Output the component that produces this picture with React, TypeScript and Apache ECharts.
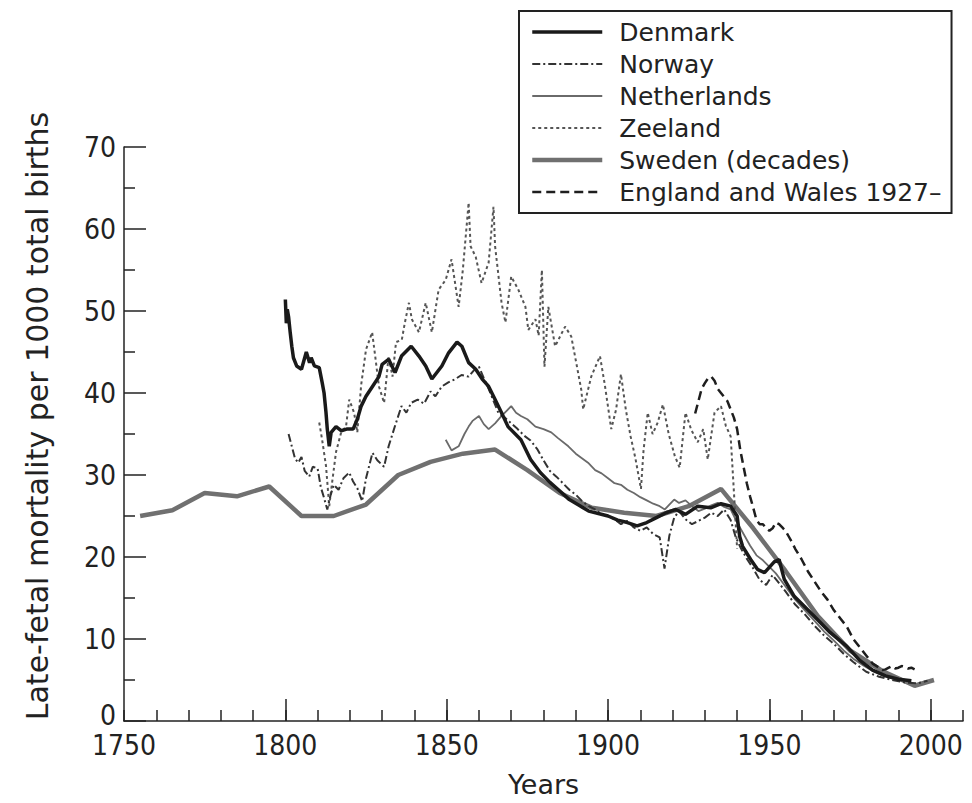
import React, { useEffect, useRef } from 'react';
import * as echarts from 'echarts';

const seriesNames = ['Denmark', 'Norway', 'Netherlands', 'Zeeland', 'Sweden (decades)', 'England and Wales 1927–'];
const xLabelYears = [1750, 1800, 1850, 1900, 1950, 2000];
const xMajorTickYears = [1800, 1850, 1900, 1950, 2000];

const denmark: [number, number][] = [
  [1800, 51.4], [1800.3, 48.5], [1800.6, 50.2], [1801, 49.3], [1801.5, 47.4], [1802, 45.7], [1802.5, 44.3],
  [1803.5, 43.3], [1805, 42.9], [1806.5, 45], [1807.5, 43.7], [1808, 44.3], [1809, 43.3], [1810.5, 43.1],
  [1811.4, 41.3], [1812, 40], [1812.6, 37.6], [1813, 35.6], [1813.6, 33.5], [1814.2, 35.2], [1815.7, 35.9],
  [1817.3, 35.4], [1819, 35.6], [1821, 35.6], [1822.3, 36.8], [1823.5, 38.4], [1825, 39.6], [1827, 40.8],
  [1829, 42], [1830, 43.5], [1832, 44.1], [1834, 42.5], [1836, 44.5], [1839, 45.7], [1841.4, 44.5],
  [1843.5, 43.3], [1845.4, 41.7], [1848.5, 43.3], [1850.6, 44.9], [1853.2, 46.2], [1854.7, 45.7],
  [1856.8, 43.7], [1859, 42.9], [1861, 41.7], [1863, 40.8], [1865, 39.2], [1867, 37.6], [1869, 35.9],
  [1873, 34.3], [1876, 31.9], [1879, 30.3], [1882, 29.1], [1885.5, 27.9], [1888, 27], [1891, 26.3],
  [1894, 25.6], [1897, 25.3], [1900, 25], [1903, 24.5], [1906, 24.2], [1909, 23.8], [1912, 24.2],
  [1915, 24.8], [1918, 25.4], [1921, 25.8], [1924, 25.2], [1927.8, 26.2], [1931.8, 26], [1935, 26.5],
  [1938, 26.2], [1940, 25], [1940.8, 22.5], [1941.7, 21.3], [1944.2, 19.7], [1946.3, 18.5], [1948.5, 18.1],
  [1951.5, 19.4], [1953, 19.7], [1954.6, 17.3], [1957.7, 15.2], [1960.8, 14], [1964.8, 12.4], [1968.8, 10.8],
  [1974, 9.1], [1978, 7.4], [1982, 6.2], [1986, 5.5], [1990, 5.1], [1994, 4.9],
];

const norway: [number, number][] = [
  [1801, 35], [1802, 33.5], [1803, 32], [1804, 31.5], [1805, 32.2], [1806, 30.5], [1807.4, 29.8],
  [1808.5, 31], [1810, 30.8], [1811, 28.5], [1812, 27.2], [1813, 25.8], [1814, 27.5], [1815, 28.8],
  [1816.5, 28.2], [1818, 29.6], [1819.8, 30.3], [1821, 29.2], [1822.3, 28.4], [1823.8, 26.8], [1825, 29.6],
  [1827, 32.7], [1828.5, 31.8], [1830.6, 31], [1832, 33.5], [1834, 36], [1836, 38.4], [1837.5, 37.6],
  [1839, 38.8], [1841, 39.2], [1843, 38.7], [1845, 40.2], [1846.5, 39.6], [1848.5, 40.8], [1850.5, 41.3],
  [1852.7, 41.7], [1854.6, 42.2], [1856.8, 42], [1858.5, 42.8], [1860, 43.2], [1861.5, 41.8], [1863, 40.5],
  [1866, 37.6], [1868, 37], [1870, 36.3], [1872, 35.6], [1874, 34.8], [1876, 34.2], [1878, 33.2],
  [1880, 31.8], [1882, 30.5], [1884, 29.8], [1886, 29], [1888, 28.2], [1890, 27.6], [1892, 26.8],
  [1894, 26.2], [1896, 25.8], [1898, 25.2], [1900, 25], [1902, 24.6], [1904, 24], [1906, 24.4],
  [1908, 23.6], [1910, 23.2], [1912, 23.6], [1914, 22.8], [1916, 22.4], [1917.5, 18.6], [1919, 22.6],
  [1920.5, 24.8], [1922, 25.6], [1924, 24.6], [1926, 24], [1928, 24.4], [1930, 24.8], [1932, 25.4],
  [1934, 25], [1936, 25.8], [1938, 24.5], [1939.5, 22.5], [1941, 21.2], [1943, 19.8], [1945, 18.6],
  [1947, 17.2], [1949, 16.6], [1951, 17.8], [1953, 16.8], [1955, 15.8], [1958, 14.2], [1961, 13],
  [1964, 11.6], [1967, 10.4], [1970, 9.4], [1973, 8.2], [1976, 7.2], [1980, 6], [1984, 5.4], [1988, 5],
  [1992, 4.7], [1996, 4.6], [1999, 4.9],
];

const netherlands: [number, number][] = [
  [1849.7, 34.3], [1851.5, 33], [1853.7, 33.5], [1855.5, 35], [1856.8, 35.9], [1858, 36.6], [1860, 37.2],
  [1861.5, 36.2], [1863, 35.6], [1865, 36.3], [1867, 37.2], [1868.5, 37.8], [1870, 38.4], [1871.5, 37.6],
  [1873, 37.2], [1875, 36.8], [1877.5, 35.9], [1880, 35.6], [1882.4, 35.2], [1884.5, 34.5], [1887.7, 33.5],
  [1890, 32.6], [1893.8, 31.5], [1896, 30.6], [1898, 30.2], [1900, 29.6], [1902, 29], [1904, 28.8],
  [1906, 28.2], [1908, 27.8], [1910, 27.3], [1912, 26.9], [1914, 26.5], [1916, 26.2], [1917.6, 25.8],
  [1919, 26.4], [1920.5, 27], [1922, 26.6], [1924, 26.9], [1926, 26.2], [1928, 25.6], [1930, 25.9],
  [1932, 26.3], [1934, 26.6], [1936, 26.1], [1938, 25.8], [1940, 24.2], [1942, 22.8], [1944, 21.4],
  [1946, 20.2], [1948, 19.6], [1950, 18.8], [1952, 18], [1955, 16.4], [1958, 14.8], [1961, 13.5],
  [1964, 12.2], [1967, 10.9], [1970, 9.8], [1973, 8.6], [1976, 7.6], [1979, 6.8], [1982, 6.1],
  [1985, 5.6], [1988, 5.2],
];

const zeeland: [number, number][] = [
  [1810.5, 36.4], [1811.4, 34.3], [1812.6, 31.1], [1813.6, 26.2], [1814.5, 29.1], [1815.7, 32.8],
  [1817.3, 35.2], [1818.8, 35.9], [1819.8, 39.2], [1821.3, 37.6], [1822.3, 35.2], [1823.5, 41],
  [1825, 45.3], [1826.9, 47.4], [1828, 44], [1829, 40.8], [1830.6, 38.8], [1832, 44.5], [1833.2, 42],
  [1834.3, 46.2], [1836.1, 46.5], [1837, 48.5], [1838.3, 51], [1839.2, 49], [1841.4, 47.4], [1843.5, 51],
  [1845.4, 47.4], [1847.5, 52.6], [1849.7, 53.8], [1851.5, 56.3], [1853.7, 50.5], [1855, 55],
  [1856.8, 63.2], [1857.4, 57.9], [1859, 56.6], [1860.8, 53.4], [1863, 55.9], [1864.5, 62.7], [1865, 57.9],
  [1867, 51], [1868.2, 48.6], [1870, 54.2], [1872.2, 52.6], [1874.4, 50.5], [1875.3, 47.7], [1877.5, 49],
  [1878.5, 47], [1879.5, 55], [1880.3, 43.2], [1881.5, 50.5], [1883.6, 45.7], [1886.7, 48.1],
  [1888.6, 46.9], [1890, 44], [1891.7, 40.4], [1892.3, 38], [1894.8, 42], [1897.5, 44.5], [1899, 41],
  [1901, 35.6], [1902.5, 38], [1904, 42.3], [1905.5, 38], [1907, 34.7], [1908.5, 32], [1910.2, 28.3],
  [1911, 33], [1912.3, 37.6], [1913.8, 35], [1915.4, 36.4], [1917, 38.6], [1918.8, 35], [1920.7, 32.3],
  [1922.2, 30.9], [1924, 37.6], [1925.8, 35.5], [1927.8, 34], [1929.5, 35.6], [1930.9, 31.9], [1933, 37.6],
  [1935, 38.4], [1936.5, 36], [1938, 34.7], [1939, 28], [1940, 21],
];

const sweden: [number, number][] = [
  [1755, 25], [1765, 25.7], [1775, 27.8], [1785, 27.4], [1795, 28.6], [1805, 25], [1815, 25], [1825, 26.4],
  [1835, 30], [1845, 31.6], [1855, 32.6], [1865, 33.1], [1875, 30.6], [1885, 27.8], [1895, 26], [1905, 25.4],
  [1915, 25], [1925, 26.2], [1935, 28.3], [1945, 23.5], [1955, 18.3], [1965, 12.8], [1975, 8.6], [1985, 6.1],
  [1995, 4.3], [2001, 5],
];

const englandWales: [number, number][] = [
  [1927, 37.5], [1928, 39], [1929, 40.5], [1930, 41.2], [1931, 41.8], [1932, 42], [1933, 41.5], [1934, 40.5],
  [1935, 40], [1936, 39.5], [1937, 39], [1938, 38], [1939, 37], [1940, 35.6], [1941, 33], [1942, 31],
  [1943, 29], [1944, 27.4], [1945, 26], [1946, 24.5], [1947, 24], [1948, 24], [1949, 23.5], [1950, 23.2],
  [1951, 23.5], [1952, 24.2], [1953, 24], [1954, 23.6], [1955, 23.2], [1956, 22.5], [1957, 21.8], [1958, 21],
  [1960, 19.7], [1962, 18.2], [1964, 17], [1966, 15.8], [1968, 14.8], [1970, 13.5], [1972, 12.5], [1974, 11.5],
  [1976, 10], [1978, 9], [1980, 8], [1982, 7], [1984, 6.5], [1985, 6.2], [1986, 6.3], [1987, 6.5], [1988, 6.7],
  [1989, 6.4], [1990, 6.5], [1991, 6.7], [1992, 6.6], [1993, 6.4], [1994, 6.5], [1995, 6.3],
];

const FONT = "'DejaVu Sans', sans-serif";
const TICK_FONT = "'DejaVu Sans Condensed', 'Liberation Sans Narrow', sans-serif";
const INK = '#222';

const styles = [
  { color: '#1a1a1a', width: 3.5, type: 'solid' as any },
  { color: '#333333', width: 2, type: [8, 3, 2, 3] as any },
  { color: '#6a6a6a', width: 1.8, type: 'solid' as any },
  { color: '#555555', width: 2, type: [3, 3] as any },
  { color: '#707070', width: 4.5, type: 'solid' as any },
  { color: '#1e1e1e', width: 2.5, type: [9, 5] as any },
];

export default function App() {
  const ref = useRef<HTMLDivElement>(null);
  useEffect(() => {
    document.body.style.margin = '0';
    const chart = echarts.init(ref.current!, null, { renderer: 'svg' });
    const line = (i: number, data: [number, number][], z: number) => ({
      name: seriesNames[i],
      type: 'line',
      data,
      symbol: 'none',
      showSymbol: false,
      smooth: false,
      z,
      lineStyle: { ...styles[i] },
      itemStyle: { color: styles[i].color },
      xAxisIndex: 0,
      yAxisIndex: 0,
    });
    chart.setOption({
      animation: false,
      backgroundColor: '#ffffff',
      grid: { left: 124, top: 147, right: 9, bottom: 81, containLabel: false },
      legend: {
        data: seriesNames.map((n, i) => ({ name: n, lineStyle: { ...styles[i] }, itemStyle: { opacity: 0 } })),
        orient: 'vertical',
        left: 519,
        top: 11,
        borderColor: INK,
        borderWidth: 2,
        padding: [8, 10, 8, 11],
        itemWidth: 70,
        itemHeight: 14,
        itemGap: 6,
        itemStyle: { opacity: 0 },
        textStyle: { fontFamily: FONT, fontSize: 25, color: INK, lineHeight: 26, padding: [0, 0, 0, 12] },
      },
      xAxis: [
        {
          type: 'value', min: 1750, max: 2010, interval: 10,
          name: 'Years', nameLocation: 'middle', nameGap: 50,
          nameTextStyle: { fontFamily: FONT, fontSize: 27, color: INK },
          axisLine: { lineStyle: { color: INK, width: 1.5 } },
          axisTick: { inside: true, length: 11, lineStyle: { color: INK, width: 1.5 } },
          axisLabel: {
            margin: 10, fontFamily: TICK_FONT, fontSize: 28, color: INK,
            formatter: (v: number) => (xLabelYears.includes(v) ? String(v) : ''),
          },
          splitLine: { show: false },
        },
        {
          type: 'value', min: 1750, max: 2010, position: 'bottom',
          axisLine: { show: false },
          axisTick: { inside: true, length: 22, customValues: xMajorTickYears, lineStyle: { color: INK, width: 1.5 } },
          axisLabel: { show: false },
          splitLine: { show: false },
        },
      ],
      yAxis: [
        {
          type: 'value', min: 0, max: 70, interval: 10,
          name: 'Late-fetal mortality per 1000 total births', nameLocation: 'middle', nameGap: 72, nameRotate: 90,
          nameTextStyle: { fontFamily: FONT, fontSize: 30, color: INK, padding: [0, 0, 0, 36] },
          axisLine: { show: true, lineStyle: { color: INK, width: 1.5 } },
          axisTick: { show: true, inside: true, length: 22, lineStyle: { color: INK, width: 1.5 } },
          minorTick: { show: true, splitNumber: 2, length: 11, lineStyle: { color: INK, width: 1.5 } },
          axisLabel: {
            margin: 8, fontFamily: TICK_FONT, fontSize: 28, color: INK,
            formatter: (v: number) => (v === 0 ? '{z|0}' : String(v)),
            rich: { z: { fontFamily: TICK_FONT, fontSize: 28, color: INK, padding: [0, 0, 12, 0] } },
          },
          splitLine: { show: false },
        },
      ],
      series: [
        line(4, sweden, 1),
        line(2, netherlands, 2),
        line(3, zeeland, 3),
        line(1, norway, 4),
        line(5, englandWales, 5),
        line(0, denmark, 6),
      ],
    });
    return () => chart.dispose();
  }, []);
  return <div ref={ref} style={{ width: 972, height: 803 }} />;
}
